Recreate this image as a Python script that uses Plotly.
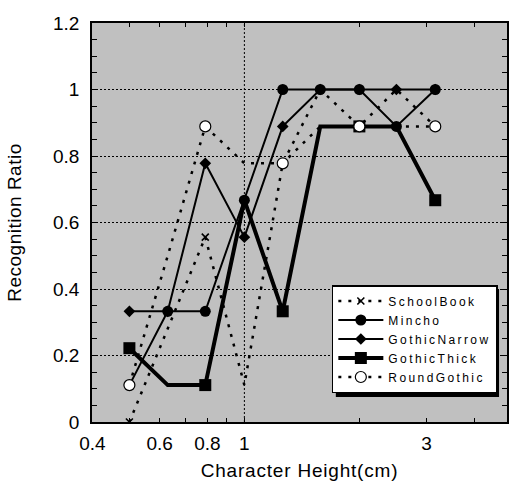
import math
import plotly.graph_objects as go

# ---- data ----
heights = [0.5, 0.63, 0.79, 1.0, 1.26, 1.58, 2.0, 2.5, 3.16]
school_book = [0.0, 0.28, 0.556, 0.111, 0.778, 1.0, 0.889, 1.0, 0.889]
mincho = [0.111, 0.333, 0.333, 0.667, 1.0, 1.0, 1.0, 0.889, 1.0]
gothic_narrow = [0.333, 0.333, 0.778, 0.556, 0.889, 1.0, 1.0, 1.0, 1.0]
gothic_thick = [0.222, 0.111, 0.111, 0.667, 0.333, 0.889, 0.889, 0.889, 0.667]
round_gothic = [0.111, 0.5, 0.889, 0.778, 0.778, 0.889, 0.889, 0.889, 0.889]

x_tick_vals = [0.4, 0.6, 0.8, 1, 3]
x_tick_text = ["0.4", "0.6", "0.8", "1", "3"]
x_minor_vals = [0.5, 0.7, 0.9, 2, 4]
y_tick_vals = [0, 0.2, 0.4, 0.6, 0.8, 1.0, 1.2]
y_tick_text = ["0", "0.2", "0.4", "0.6", "0.8", "1", "1.2"]

FONT = "Liberation Sans, Arial, sans-serif"
CLEAR = "rgba(0,0,0,0)"
DOT = "3px,7px"


def every_other(color, n):
    return [color if i % 2 == 0 else CLEAR for i in range(n)]


def spaced(text, px):
    return f'<span style="letter-spacing:{px}px">{text}</span>'


n = len(heights)
fig = go.Figure()

fig.add_trace(go.Scatter(
    x=heights, y=school_book, name=spaced("SchoolBook", 2.4), mode="lines+markers",
    line=dict(color="black", width=2.5, dash=DOT),
    marker=dict(symbol="x-thin", size=7, color=every_other("black", n),
                line=dict(width=1.6, color=every_other("black", n))),
    legendrank=1))

fig.add_trace(go.Scatter(
    x=heights, y=gothic_narrow, name=spaced("GothicNarrow", 2.4), mode="lines+markers",
    line=dict(color="black", width=2),
    marker=dict(symbol="diamond", size=9, color="black"),
    legendrank=3))

fig.add_trace(go.Scatter(
    x=heights, y=gothic_thick, name=spaced("GothicThick", 2.4), mode="lines+markers",
    line=dict(color="black", width=4),
    marker=dict(symbol="square", size=12, color=every_other("black", n),
                line=dict(width=0)),
    legendrank=4))

fig.add_trace(go.Scatter(
    x=heights, y=mincho, name=spaced("Mincho", 2.4), mode="lines+markers",
    line=dict(color="black", width=2),
    marker=dict(symbol="circle", size=11, color="black"),
    legendrank=2))

fig.add_trace(go.Scatter(
    x=heights, y=round_gothic, name=spaced("RoundGothic", 2.4), mode="lines+markers",
    line=dict(color="black", width=2.5, dash=DOT),
    marker=dict(symbol="circle", size=11, color=every_other("white", n),
                line=dict(width=1.2, color=every_other("black", n))),
    legendrank=5))

x_lo, x_hi = math.log10(0.4) - 0.001, math.log10(4.87)

fig.update_layout(
    width=510, height=483,
    margin=dict(l=92, r=1, t=23, b=61),
    paper_bgcolor="white", plot_bgcolor="#c0c0c0",
    font=dict(family=FONT, size=19, color="black"),
    showlegend=True,
    legend=dict(x=(333 - 92) / 417, y=(422 - 285) / 399, xanchor="left", yanchor="top",
                bgcolor="white", bordercolor="black", borderwidth=1.5,
                font=dict(family=FONT, size=12), itemwidth=45,
                tracegroupgap=0),
    xaxis=dict(type="log", range=[x_lo, x_hi],
               tickvals=x_tick_vals, ticktext=x_tick_text,
               ticks="inside", ticklen=4, tickcolor="black",
               ticklabelstandoff=3,
               showline=True, linecolor="black", linewidth=1.5, mirror="ticks",
               showgrid=False, zeroline=False,
               minor=dict(tickvals=x_minor_vals, ticks="inside", ticklen=4,
                          tickcolor="black", showgrid=False),
               title=dict(text=spaced("Character Height(cm)", 0.8), standoff=11,
                          font=dict(size=19))),
    yaxis=dict(range=[0, 1.2], tickvals=y_tick_vals, ticktext=y_tick_text,
               ticks="inside", ticklen=5, tickcolor="black",
               ticklabelstandoff=7,
               showline=True, linecolor="black", linewidth=1.5, mirror="ticks",
               showgrid=True, gridcolor="black", griddash="2px,2px", gridwidth=1,
               zeroline=False,
               minor=dict(dtick=0.05, ticks="inside", ticklen=5,
                          tickcolor="black", showgrid=False),
               title=dict(text=spaced("Recognition Ratio", 0.5), standoff=26,
                          font=dict(size=19))),
)

# vertical dotted grid line at x = 1
fig.add_shape(type="line", xref="x", yref="paper", x0=1, x1=1, y0=0, y1=1,
              line=dict(color="black", width=1, dash="2px,2px"), layer="below")

# legend drop shadow
fig.add_shape(type="rect", xref="paper", yref="paper",
              x0=(337 - 92) / 417, x1=(501 - 92) / 417,
              y0=(422 - 397) / 399, y1=(422 - 289) / 399,
              fillcolor="black", line=dict(width=0), layer="above")

fig.write_html("out.html")
